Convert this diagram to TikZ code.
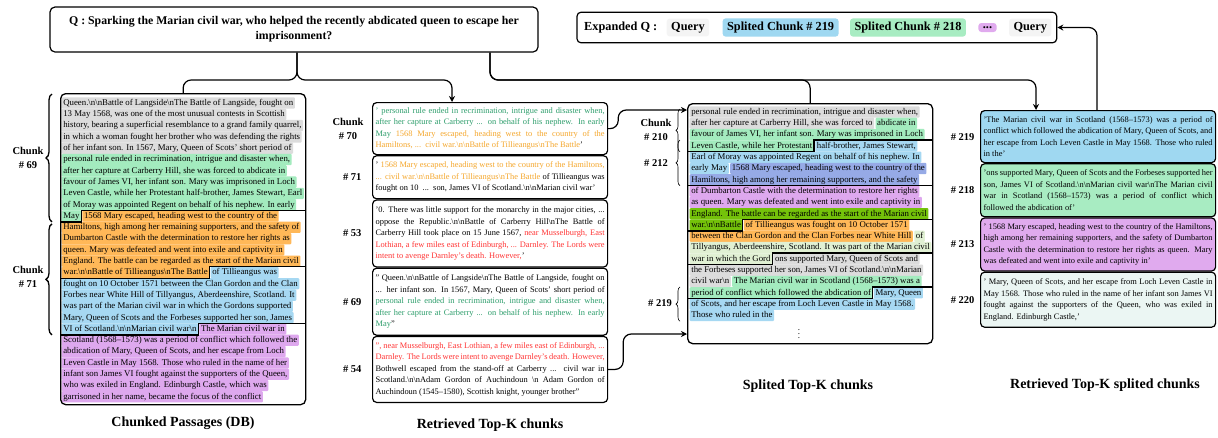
\documentclass[tikz,border=0pt]{standalone}
\usepackage{fontspec}
\setmainfont{Liberation Serif}
\usepackage{xcolor}
\usetikzlibrary{arrows.meta}
\usetikzlibrary{calc}
\usetikzlibrary{positioning}
\usetikzlibrary{fit}
\usetikzlibrary{decorations.pathreplacing}
\definecolor{hgray}{HTML}{DCDCDC}
\definecolor{hgreen}{HTML}{A3EBBE}
\definecolor{horange}{HTML}{FFB858}
\definecolor{hblue}{HTML}{A6D8F2}
\definecolor{hviolet}{HTML}{DEA8EE}
\definecolor{hslate}{HTML}{96AAE6}
\definecolor{holive}{HTML}{74C20A}
\definecolor{hlgreen}{HTML}{E0F0D3}
\definecolor{tgreen}{HTML}{2E9E6C}
\definecolor{torange}{HTML}{F5A72C}
\definecolor{tred}{HTML}{FF3535}
\definecolor{c219}{HTML}{9FD8F1}
\definecolor{c218}{HTML}{A8ECC2}
\definecolor{c213}{HTML}{E0AAEE}
\definecolor{c220}{HTML}{EBF6F3}
\definecolor{qgray}{HTML}{F4F4F4}
\newcommand\bsn{\textbackslash n}
\newlength\colw
\setlength\colw{229pt}
\newcommand\jline[1]{\hbox to\colw{#1}}
\newcommand\lline[1]{\hbox to\colw{#1\hfil}}
\tikzstyle{seg}=[anchor=west,inner xsep=1.6pt,inner ysep=0pt,text height=8pt,text depth=3.3pt,rounded corners=1pt,font=\fontsize{8.8}{11.3}\selectfont]
\tikzstyle{card}=[draw,line width=1.2pt,rounded corners=4pt,anchor=north west,inner xsep=3pt,inner ysep=0pt,align=left,font=\fontsize{8.4}{11.5}\selectfont]
\tikzstyle{frame}=[draw,line width=1.3pt,rounded corners=5pt,anchor=north west,inner sep=0pt]
\tikzstyle{tag}=[font=\bfseries\fontsize{10.5}{14}\selectfont,align=center]
\tikzstyle{ttl}=[font=\bfseries\fontsize{14}{17}\selectfont]
\tikzstyle{pill}=[font=\bfseries\fontsize{12.3}{14}\selectfont,inner xsep=4.5pt,inner ysep=3.5pt,rounded corners=3pt]
\tikzstyle{rim}=[line width=1.3pt]
\tikzstyle{link}=[line width=1.2pt,rounded corners=8pt]
\tikzstyle{arr}=[link,-{Stealth[length=6pt,width=6pt]}]
\tikzstyle{lbrace}=[decorate,decoration={brace,amplitude=6pt}]

\begin{document}
\begin{tikzpicture}[x=1pt,y=-1pt]
  \fill[white] (0,0) rectangle (1218,437);
  \useasboundingbox (0,0) rectangle (1218,437);

  % question and expanded query
  \node[draw,line width=1.2pt,rounded corners=5pt,align=center,minimum width=488pt,minimum height=45pt,
        font=\bfseries\fontsize{11.8}{15}\selectfont] (q) at (294,29.5)
    {Q : Sparking the Marian civil war, who helped the recently abdicated queen to escape her\\imprisonment?};
  \node[pill,anchor=west,inner xsep=2pt] (eqlab) at (582,27.5) {Expanded Q :};
  \node[pill,fill=qgray,right=7pt of eqlab] (eqa) {Query};
  \node[pill,fill=c219,right=13pt of eqa] (eq219) {Splited Chunk \# 219};
  \node[pill,fill=c218,right=11pt of eq219] (eq218) {Splited Chunk \# 218};
  \node[pill,fill=c213,right=12pt of eq218] (eqdots) {...};
  \node[pill,fill=qgray,right=12pt of eqdots] (eqb) {Query};
  \node[draw,line width=1.2pt,rounded corners=4pt,fit=(eqlab)(eqb),inner xsep=5pt,inner ysep=6pt] (expq) {};

  % chunked passages (DB)
  \node[seg,fill=hgray] (a1) at (61.5,103) {Queen.\bsn\bsn Battle of Langside\bsn The Battle of Langside, fought on};
  \node[seg,fill=hgray] (a2) at (61.5,114.3) {13 May 1568, was one of the most unusual contests in Scottish};
  \node[seg,fill=hgray] (a3) at (61.5,125.6) {history, bearing a superficial resemblance to a grand family quarrel,};
  \node[seg,fill=hgray] (a4) at (61.5,136.9) {in which a woman fought her brother who was defending the rights};
  \node[seg,fill=hgray] (a5) at (61.5,148.2) {of her infant son. In 1567, Mary, Queen of Scots' short period of};
  \node[seg,fill=hgreen] (a6) at (61.5,159.5) {personal rule ended in recrimination, intrigue and disaster when,};
  \node[seg,fill=hgreen] (a7) at (61.5,170.8) {after her capture at Carberry Hill, she was forced to abdicate in};
  \node[seg,fill=hgreen] (a8) at (61.5,182.1) {favour of James VI, her infant son. Mary was imprisoned in Loch};
  \node[seg,fill=hgreen] (a9) at (61.5,193.4) {Leven Castle, while her Protestant half-brother, James Stewart, Earl};
  \node[seg,fill=hgreen] (a10) at (61.5,204.7) {of Moray was appointed Regent on behalf of his nephew. In early};
  \node[seg,fill=hgreen] (a11a) at (61.5,216) {May};
  \node[seg,fill=horange,right=1pt of a11a] (a11b) {1568 Mary escaped, heading west to the country of the};
  \node[seg,fill=horange] (a12) at (61.5,227.3) {Hamiltons, high among her remaining supporters, and the safety of};
  \node[seg,fill=horange] (a13) at (61.5,238.6) {Dumbarton Castle with the determination to restore her rights as};
  \node[seg,fill=horange] (a14) at (61.5,249.9) {queen. Mary was defeated and went into exile and captivity in};
  \node[seg,fill=horange] (a15) at (61.5,261.2) {England. The battle can be regarded as the start of the Marian civil};
  \node[seg,fill=horange] (a16a) at (61.5,272.5) {war.\bsn\bsn Battle of Tillieangus\bsn The Battle};
  \node[seg,fill=hblue,right=1pt of a16a] (a16b) {of Tillieangus was};
  \node[seg,fill=hblue] (a17) at (61.5,283.8) {fought on 10 October 1571 between the Clan Gordon and the Clan};
  \node[seg,fill=hblue] (a18) at (61.5,295.1) {Forbes near White Hill of Tillyangus, Aberdeenshire, Scotland. It};
  \node[seg,fill=hblue] (a19) at (61.5,306.4) {was part of the Marian civil war in which the Gordons supported};
  \node[seg,fill=hblue] (a20) at (61.5,317.7) {Mary, Queen of Scots and the Forbeses supported her son, James};
  \node[seg,fill=hblue] (a21a) at (61.5,329) {VI of Scotland.\bsn\bsn Marian civil war\bsn};
  \node[seg,fill=hviolet,right=1pt of a21a] (a21b) {The Marian civil war in};
  \node[seg,fill=hviolet] (a22) at (61.5,340.3) {Scotland (1568–1573) was a period of conflict which followed the};
  \node[seg,fill=hviolet] (a23) at (61.5,351.6) {abdication of Mary, Queen of Scots, and her escape from Loch};
  \node[seg,fill=hviolet] (a24) at (61.5,362.9) {Leven Castle in May 1568. Those who ruled in the name of her};
  \node[seg,fill=hviolet] (a25) at (61.5,374.2) {infant son James VI fought against the supporters of the Queen,};
  \node[seg,fill=hviolet] (a26) at (61.5,385.5) {who was exiled in England. Edinburgh Castle, which was};
  \node[seg,fill=hviolet] (a27) at (61.5,396.8) {garrisoned in her name, became the focus of the conflict};
  \node[frame,minimum width=245pt,minimum height=311pt] (db) at (60,93) {};
  \draw[rim] (db.west |- a11a.south) -- (a11a.south east) -- (a11a.north east) -- (db.east |- a11a.north);
  \draw[rim] (db.west |- a16a.south) -- (a16a.south east) -- (a16a.north east) -- (db.east |- a16a.north);
  \draw[rim] (db.west |- a21a.south) -- (a21a.south east) -- (a21a.north east) -- (db.east |- a21a.north);
  \draw[lbrace,line width=1.3pt] ($(db.west |- a11a.south)+(-8,0)$) -- ($(db.north west)+(-8,1)$);
  \draw[lbrace,line width=1.3pt] ($(db.west |- a21a.south)+(-8,0)$) -- ($(db.west |- a11a.south)+(-8,2)$);
  \node[tag] (t69) at (28,158) {Chunk\\\# 69};
  \node[tag] (t71) at (28,277) {Chunk\\\# 71};
  \node[ttl] (ttldb) at (183,423) {Chunked Passages (DB)};

  % retrieved top-k chunks
  \node[card,minimum height=52pt] (k70) at (372,102) {%
    \jline{\color{tgreen}' personal rule ended in recrimination, intrigue and disaster when,}\\
    \jline{\color{tgreen}after her capture at Carberry ... on behalf of his nephew. In early}\\
    \jline{{\color{tgreen}May} {\color{torange}1568 Mary escaped, heading west to the country of the}}\\
    \lline{{\color{torange}Hamiltons, ...\ \ civil war.\bsn\bsn Battle of Tillieangus\bsn The Battle}'}};
  \node[card,minimum height=43pt] (k71) at (k70.south west) {%
    \jline{' {\color{torange}1568 Mary escaped, heading west to the country of the Hamiltons,}}\\
    \jline{{\color{torange}... civil war.\bsn\bsn Battle of Tillieangus\bsn The Battle} of Tillieangus was}\\
    \lline{fought on 10\ \ ...\ \ son, James VI of Scotland.\bsn\bsn Marian civil war'}};
  \node[card,minimum height=67pt] (k53) at (k71.south west) {%
    \jline{'0. There was little support for the monarchy in the major cities, ...}\\
    \jline{oppose the Republic.\bsn\bsn Battle of Carberry Hill\bsn The Battle of}\\
    \jline{Carberry Hill took place on 15 June 1567, {\color{tred}near Musselburgh, East}}\\
    \jline{\color{tred}Lothian, a few miles east of Edinburgh, ... Darnley. The Lords were}\\
    \lline{{\color{tred}intent to avenge Darnley's death. However,}'}};
  \node[card,minimum height=67pt] (k69) at (k53.south west) {%
    \jline{'' Queen.\bsn\bsn Battle of Langside\bsn The Battle of Langside, fought on}\\
    \jline{... her infant son. In 1567, Mary, Queen of Scots' short period of}\\
    \jline{\color{tgreen}personal rule ended in recrimination, intrigue and disaster when,}\\
    \jline{\color{tgreen}after her capture at Carberry ... on behalf of his nephew. In early}\\
    \lline{{\color{tgreen}May}''}};
  \node[card,minimum height=66pt] (k54) at (k69.south west) {%
    \jline{\color{tred}'', near Musselburgh, East Lothian, a few miles east of Edinburgh, ...}\\
    \jline{\color{tred}Darnley. The Lords were intent to avenge Darnley's death. However,}\\
    \jline{Bothwell escaped from the stand-off at Carberry ... civil war in}\\
    \jline{Scotland.\bsn\bsn Adam Gordon of Auchindoun \bsn{} Adam Gordon of}\\
    \lline{Auchindoun (1545–1580), Scottish knight, younger brother''}};
  \node[tag,left=5pt of k70] (t70) {Chunk\\\# 70};
  \node[tag,left=7pt of k71] (t71b) {\# 71};
  \node[tag,left=7pt of k53] (t53) {\# 53};
  \node[tag,left=7pt of k69] (t69b) {\# 69};
  \node[tag,left=7pt of k54] (t54) {\# 54};
  \node[ttl] (ttlk) at (490,425) {Retrieved Top-K chunks};

  % splited top-k chunks
  \node[seg,fill=hgray] (c1) at (689.5,112) {personal rule ended in recrimination, intrigue and disaster when,};
  \node[seg,fill=hgray] (c2a) at (689.5,123.3) {after her capture at Carberry Hill, she was forced to};
  \node[seg,fill=hgreen,right=1pt of c2a] (c2b) {abdicate in};
  \node[seg,fill=hgreen] (c3) at (689.5,134.6) {favour of James VI, her infant son. Mary was imprisoned in Loch};
  \node[seg,fill=hgreen] (c4a) at (689.5,145.9) {Leven Castle, while her Protestant};
  \node[seg,fill=hblue,right=1pt of c4a] (c4b) {half-brother, James Stewart,};
  \node[seg,fill=hblue] (c5) at (689.5,157.2) {Earl of Moray was appointed Regent on behalf of his nephew. In};
  \node[seg,fill=hblue] (c6a) at (689.5,168.5) {early May};
  \node[seg,fill=hslate,right=1pt of c6a] (c6b) {1568 Mary escaped, heading west to the country of the};
  \node[seg,fill=hslate] (c7) at (689.5,179.8) {Hamiltons, high among her remaining supporters, and the safety};
  \node[seg,fill=hviolet] (c8) at (689.5,191.1) {of Dumbarton Castle with the determination to restore her rights};
  \node[seg,fill=hviolet] (c9) at (689.5,202.4) {as queen. Mary was defeated and went into exile and captivity in};
  \node[seg,fill=holive] (c10) at (689.5,213.7) {England. The battle can be regarded as the start of the Marian civil};
  \node[seg,fill=holive] (c11a) at (689.5,225) {war.\bsn\bsn Battle};
  \node[seg,fill=horange,right=1pt of c11a] (c11b) {of Tillieangus was fought on 10 October 1571};
  \node[seg,fill=horange] (c12a) at (689.5,236.3) {between the Clan Gordon and the Clan Forbes near White Hill};
  \node[seg,fill=hlgreen,right=1pt of c12a] (c12b) {of};
  \node[seg,fill=hlgreen] (c13) at (689.5,247.6) {Tillyangus, Aberdeenshire, Scotland. It was part of the Marian civil};
  \node[seg,fill=hlgreen] (c14a) at (689.5,258.9) {war in which the Gord};
  \node[seg,fill=hgray,right=1pt of c14a] (c14b) {ons supported Mary, Queen of Scots and};
  \node[seg,fill=hgray] (c15) at (689.5,270.2) {the Forbeses supported her son, James VI of Scotland.\bsn\bsn Marian};
  \node[seg,fill=hgray] (c16a) at (689.5,281.5) {civil war\bsn};
  \node[seg,fill=hgreen,right=1pt of c16a] (c16b) {The Marian civil war in Scotland (1568–1573) was a};
  \node[seg,fill=hgreen] (c17a) at (689.5,292.8) {period of conflict which followed the abdication of};
  \node[seg,fill=hblue,right=1pt of c17a] (c17b) {Mary, Queen};
  \node[seg,fill=hblue] (c18) at (689.5,304.1) {of Scots, and her escape from Loch Leven Castle in May 1568.};
  \node[seg,fill=hblue] (c19) at (689.5,315.4) {Those who ruled in the};
  \node[font=\fontsize{9}{10}\selectfont] (more) at (799,331) {$\vdots$};
  \node[frame,minimum width=245pt,minimum height=240pt] (split) at (687,103) {};
  \draw[rim] (split.west |- c4a.south) -- (c4a.south east) -- (c4a.north east) -- (split.east |- c4a.north);
  \draw[rim] (split.west |- c7.south) -- (split.east |- c7.south);
  \draw[rim] (split.west |- c11a.south) -- (c11a.south east) -- (c11a.north east) -- (split.east |- c11a.north);
  \draw[rim] (split.west |- c14a.south) -- (c14a.south east) -- (c14a.north east) -- (split.east |- c14a.north);
  \draw[rim] (split.west |- c17a.south) -- (c17a.south east) -- (c17a.north east) -- (split.east |- c17a.north);
  \draw[lbrace,line width=0.6pt,decoration={amplitude=4pt}] ($(split.west |- c4a.south)+(-7,0)$) -- ($(split.north west)+(-7,6)$);
  \draw[lbrace,line width=0.6pt,decoration={amplitude=4pt}] ($(split.west |- c7.south)+(-7,0)$) -- ($(split.west |- c4a.north)+(-7,0)$);
  \draw[lbrace,line width=0.6pt,decoration={amplitude=4pt}] ($(split.west |- c19.south)+(-7,0)$) -- ($(split.west |- c17a.north)+(-7,0)$);
  \node[tag] (t210) at (656,130) {Chunk\\\# 210};
  \node[tag] (t212) at (656,163) {\# 212};
  \node[tag] (t219b) at (660,303) {\# 219};
  \node[ttl] (ttls) at (808,386) {Splited Top-K chunks};

  % retrieved top-k splited chunks
  \node[card,fill=c219,minimum height=52pt] (s219) at (980,110) {%
    \jline{'The Marian civil war in Scotland (1568–1573) was a period of}\\
    \jline{conflict which followed the abdication of Mary, Queen of Scots, and}\\
    \jline{her escape from Loch Leven Castle in May 1568. Those who ruled}\\
    \lline{in the'}};
  \node[card,fill=c218,minimum height=53pt] (s218) at (s219.south west) {%
    \jline{'ons supported Mary, Queen of Scots and the Forbeses supported her}\\
    \jline{son, James VI of Scotland.\bsn\bsn Marian civil war\bsn The Marian civil}\\
    \jline{war in Scotland (1568–1573) was a period of conflict which}\\
    \lline{followed the abdication of'}};
  \node[card,fill=c213,minimum height=53pt] (s213) at (s218.south west) {%
    \jline{' 1568 Mary escaped, heading west to the country of the Hamiltons,}\\
    \jline{high among her remaining supporters, and the safety of Dumbarton}\\
    \jline{Castle with the determination to restore her rights as queen. Mary}\\
    \lline{was defeated and went into exile and captivity in'}};
  \node[card,fill=c220,minimum height=55pt] (s220) at (s213.south west) {%
    \jline{' Mary, Queen of Scots, and her escape from Loch Leven Castle in}\\
    \jline{May 1568. Those who ruled in the name of her infant son James VI}\\
    \jline{fought against the supporters of the Queen, who was exiled in}\\
    \lline{England. Edinburgh Castle,'}};
  \node[tag,left=2pt of s219] (t219) {\# 219};
  \node[tag,left=2pt of s218] (t218) {\# 218};
  \node[tag,left=2pt of s213] (t213) {\# 213};
  \node[tag,left=2pt of s220] (t220) {\# 220};
  \node[ttl] (ttlr) at (1105,385) {Retrieved Top-K splited chunks};

  % connectors
  \coordinate (jq) at (297,80);
  \coordinate (jr) at (490,80);
  \draw[link] (q.south -| jq) -- (jq) -| (db.north);
  \draw[arr] (q.south -| jq) -- (jq) -| ([xshift=80pt]k70.north west);
  \draw[link] (q.south -| jr) -- (jr) -| (split.north);
  \draw[arr] (q.south -| jr) -- (jr) -| ([xshift=56pt]s219.north west);
  \draw[arr] ([xshift=117pt]s219.north west) |- (expq.east);
  \draw[arr] (k70.east) -- ++(10,0) |- ([yshift=-7pt]split.north west);
  \draw[arr] (k54.east) -- ++(15,0) |- ([yshift=-231pt]split.north west);
\end{tikzpicture}
\end{document}
